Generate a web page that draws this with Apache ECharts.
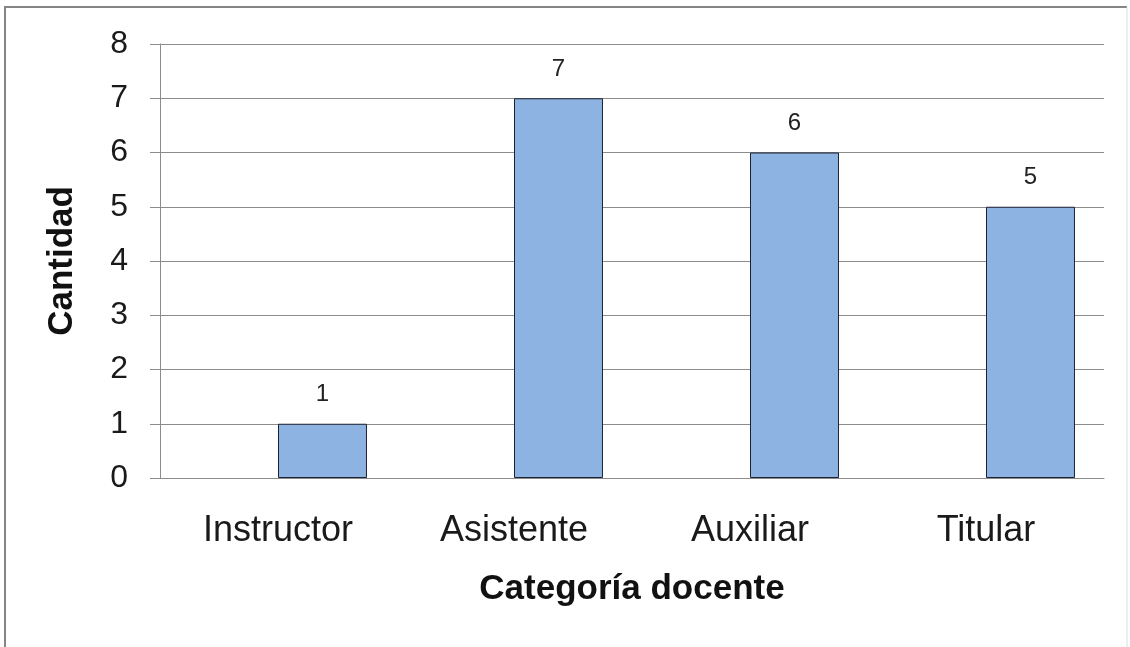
<!DOCTYPE html>
<html>
<head>
<meta charset="utf-8">
<script src="https://cdn.jsdelivr.net/npm/echarts@6/dist/echarts.min.js"></script>
<style>
  html, body { margin: 0; padding: 0; background: #fff; }
  #container { width: 1130px; height: 647px; }
</style>
</head>
<body>
<div id="container"></div>
<script>
var categories = ['Instructor', 'Asistente', 'Auxiliar', 'Titular'];
var cantidad = [1, 7, 6, 5];
// the original chart leaves an empty slot to the left of each bar
var emptySlot = [null, null, null, null];
var yTicks = { min: 0, max: 8, interval: 1 };

var dom = document.getElementById('container');
var myChart = echarts.init(dom);

var option = {
    backgroundColor: '#fff',
    animation: false,
    textStyle: { fontFamily: 'Liberation Sans, Arial, sans-serif' },
    // frame of the pasted picture: strong left/top edge, faint right edge, bottom cut off
    graphic: [
        {
            type: 'polyline',
            shape: { points: [[5, 647], [5, 7], [1127, 7]] },
            style: { fill: null, stroke: '#858585', lineWidth: 2 },
            silent: true
        },
        {
            type: 'line',
            shape: { x1: 1127, y1: 7, x2: 1127, y2: 647 },
            style: { stroke: '#dcdcdc', lineWidth: 1 },
            silent: true
        }
    ],
    grid: { left: 160, right: 26, top: 44, bottom: 169 },
    xAxis: {
        type: 'category',
        data: categories,
        name: 'Categoría docente',
        nameLocation: 'middle',
        nameGap: 94,
        nameTextStyle: { fontSize: 35, fontWeight: 'bold', color: '#111' },
        axisLine: { lineStyle: { color: '#8c8c8c', width: 1 } },
        axisTick: { show: false },
        axisLabel: { fontSize: 36, color: '#1a1a1a', margin: 35 }
    },
    yAxis: {
        type: 'value',
        min: yTicks.min,
        max: yTicks.max,
        interval: yTicks.interval,
        name: 'Cantidad',
        nameLocation: 'middle',
        nameGap: 80,
        nameTextStyle: { fontSize: 35, fontWeight: 'bold', color: '#111' },
        axisLine: { show: true, lineStyle: { color: '#8c8c8c', width: 1 } },
        axisTick: { show: true, length: 10, lineStyle: { color: '#8c8c8c' } },
        axisLabel: { fontSize: 32, color: '#1a1a1a', margin: 32 },
        splitLine: { lineStyle: { color: '#8c8c8c', width: 1 } }
    },
    series: [
        {
            type: 'bar',
            name: 'vacío',
            data: emptySlot,
            barGap: '0%',
            barCategoryGap: '24.6%'
        },
        {
            type: 'bar',
            name: 'Cantidad',
            data: cantidad,
            barGap: '0%',
            barCategoryGap: '24.6%',
            itemStyle: { color: '#8db3e2', borderColor: '#1c2233', borderWidth: 1 },
            label: {
                show: true,
                position: 'top',
                distance: 17,
                fontSize: 24,
                color: '#222'
            }
        }
    ]
};

myChart.setOption(option);
</script>
</body>
</html>
